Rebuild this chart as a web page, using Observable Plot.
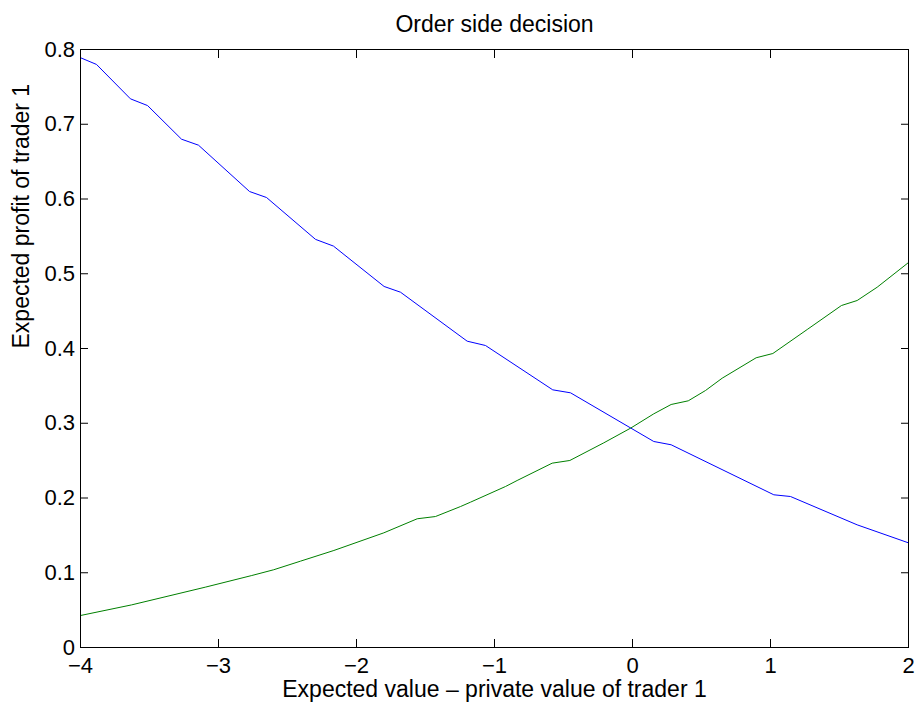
<!DOCTYPE html>
<html><head><meta charset="utf-8">
<script src="https://cdn.jsdelivr.net/npm/d3@7"></script>
<script src="https://cdn.jsdelivr.net/npm/@observablehq/plot@0.6"></script>
<style>body{margin:0;background:#fff} svg{display:block}</style>
</head><body><div id="chart"></div>
<script>
const blueX = [-4.000, -3.884, -3.638, -3.514, -3.268, -3.145, -2.775, -2.652, -2.297, -2.167, -1.800, -1.681, -1.198, -1.065, -0.578, -0.449, 0.154, 0.280, 1.024, 1.145, 1.628, 2.000];
const blueY = [0.789, 0.780, 0.734, 0.725, 0.680, 0.672, 0.610, 0.602, 0.546, 0.537, 0.483, 0.4753, 0.4098, 0.404, 0.3447, 0.3407, 0.2756, 0.2712, 0.2043, 0.2020, 0.1641, 0.140];
const greenX = [-4.000, -3.630, -3.096, -2.759, -2.600, -2.406, -2.164, -1.802, -1.560, -1.428, -1.246, -1.174, -0.920, -0.836, -0.582, -0.454, -0.208, -0.014, 0.154, 0.280, 0.404, 0.529, 0.650, 0.896, 1.017, 1.266, 1.514, 1.628, 1.773, 2.000];
const greenY = [0.0428, 0.057, 0.0807, 0.0963, 0.104, 0.1155, 0.1298, 0.1534, 0.1722, 0.1752, 0.1886, 0.1944, 0.2154, 0.2234, 0.2466, 0.2502, 0.2738, 0.2934, 0.3126, 0.3251, 0.330, 0.3438, 0.3603, 0.3876, 0.3933, 0.4254, 0.4575, 0.4642, 0.482, 0.515];
const xTicks = [-4, -3, -2, -1, 0, 1, 2];
const yTicks = [0, 0.1, 0.2, 0.3, 0.4, 0.5, 0.6, 0.7, 0.8];
const titleText = "Order side decision";
const xLabel = "Expected value \u2013 private value of trader 1";
const yLabel = "Expected profit of trader 1";

const blue = blueX.map((x, i) => ({x, y: blueY[i]}));
const green = greenX.map((x, i) => ({x, y: greenY[i]}));
const fmt = d => d < 0 ? "\u2212" + (-d) : String(d);

const plot = Plot.plot({
  width: 918, height: 703,
  marginLeft: 80, marginRight: 10, marginTop: 49, marginBottom: 56,
  style: {fontFamily: "'Liberation Sans', Arial, sans-serif", fontSize: "22px", background: "white", color: "black", overflow: "visible"},
  x: {domain: [-4, 2], label: null},
  y: {domain: [0, 0.8], label: null},
  marks: [
    Plot.line(blue, {x: "x", y: "y", stroke: "#0000ff", strokeWidth: 1}),
    Plot.line(green, {x: "x", y: "y", stroke: "#008000", strokeWidth: 1}),
    Plot.frame({stroke: "black", strokeWidth: 1, strokeOpacity: 1}),
    Plot.axisX(xTicks, {anchor: "bottom", tickSize: -8, tickPadding: 18, tickFormat: fmt, label: null, strokeOpacity: 1, fontSize: 22}),
    Plot.axisX(xTicks, {anchor: "top", tickSize: -8, tickFormat: () => "", label: null, strokeOpacity: 1}),
    Plot.axisY(yTicks, {anchor: "left", tickSize: -8, tickPadding: 13.5, tickFormat: fmt, label: null, strokeOpacity: 1, fontSize: 22}),
    Plot.axisY(yTicks, {anchor: "right", tickSize: -8, tickFormat: () => "", label: null, strokeOpacity: 1}),
    Plot.text([titleText], {text: d => d, frameAnchor: "top", dy: -25, lineAnchor: "middle", fontSize: 23, fill: "black"}),
    Plot.text([xLabel], {text: d => d, frameAnchor: "bottom", dy: 42, lineAnchor: "middle", fontSize: 23, fill: "black"}),
    Plot.text([yLabel], {text: d => d, frameAnchor: "left", dx: -59, rotate: -90, lineAnchor: "middle", fontSize: 23, fill: "black"})
  ]
});
document.getElementById("chart").appendChild(plot);
</script>
</body></html>
